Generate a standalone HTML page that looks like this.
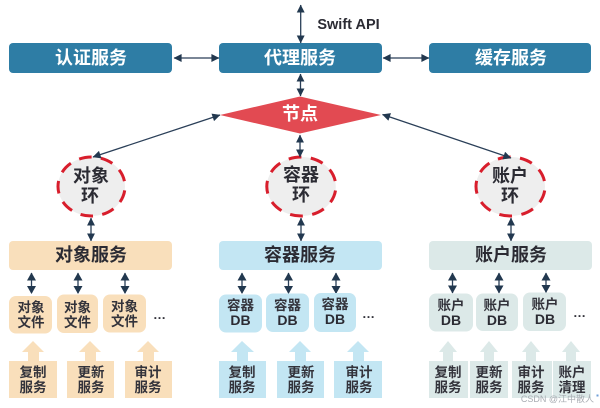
<!DOCTYPE html>
<html><head><meta charset="utf-8"><style>
html,body{margin:0;padding:0;background:#fff;width:600px;height:408px;overflow:hidden}
svg{display:block}
text{font-family:"Liberation Sans","Noto Sans CJK SC",sans-serif;text-anchor:middle}
.t{font-size:18px;font-weight:700;fill:#fff}
.d{font-size:18px;font-weight:700;fill:#2b2b33}
.s{font-size:13.5px;font-weight:700;fill:#33333b}
.b{font-size:14px;font-weight:700;fill:#2b2b33}
.l{stroke:#2a3f58;stroke-width:1.3;fill:none}
.h{fill:#22384f}
.e{font-size:13px;font-weight:700;fill:#33333b}
</style></head><body>
<svg width="600" height="408" viewBox="0 0 600 408" xmlns="http://www.w3.org/2000/svg">
<defs>
<marker id="a" viewBox="0 0 10 10" refX="9.500" refY="5" markerWidth="9" markerHeight="8" markerUnits="userSpaceOnUse" orient="auto-start-reverse"><path d="M0 0L10 5L0 10Z" fill="#22384f"/></marker>
<marker id="v" viewBox="0 0 10 10" refX="9.500" refY="5" markerWidth="8" markerHeight="9" markerUnits="userSpaceOnUse" orient="auto-start-reverse"><path d="M0 0L10 5L0 10Z" fill="#22384f"/></marker>
</defs>
<g style="filter:blur(.35px)">
<!-- top boxes -->
<rect x="9" y="43" width="163" height="30" rx="4" fill="#2e7da5"/>
<rect x="219" y="43" width="163" height="30" rx="4" fill="#2e7da5"/>
<rect x="429" y="43" width="162" height="30" rx="4" fill="#2e7da5"/>
<text class="t" x="91" y="64">认证服务</text>
<text class="t" x="300" y="64">代理服务</text>
<text class="t" x="511" y="64">缓存服务</text>
<text x="348.500" y="29" style="font-size:14.500px;font-weight:700;fill:#2b2b33">Swift API</text>
<!-- node -->
<polygon points="220,115 300,96.500 381,115 300,133.500" fill="#e24a52"/>
<text class="t" x="300" y="120">节点</text>
<!-- rings -->
<g fill="#eeeeee" stroke="#d81e2c" stroke-width="3" stroke-dasharray="6.400 4.710" stroke-dashoffset="-2">
<ellipse cx="91.500" cy="186.500" rx="33.500" ry="29.500" pathLength="100"/>
<ellipse cx="301.300" cy="186.500" rx="34.500" ry="29.500" pathLength="100"/>
<ellipse cx="510.500" cy="186.500" rx="34.500" ry="29.500" pathLength="100"/>
</g>
<text class="d" x="91" y="182">对象</text><text class="d" x="90" y="202">环</text>
<text class="d" x="301" y="181">容器</text><text class="d" x="301" y="201">环</text>
<text class="d" x="510" y="182">账户</text><text class="d" x="510" y="202">环</text>
<!-- connectors -->
<path class="l" d="M300.700 5V43" marker-start="url(#v)" marker-end="url(#v)"/>
<path class="l" d="M300.500 74V96" marker-start="url(#v)" marker-end="url(#v)"/>
<path class="l" d="M174 58H219" marker-start="url(#a)" marker-end="url(#a)"/>
<path class="l" d="M383 58H429" marker-start="url(#a)" marker-end="url(#a)"/>
<path class="l" d="M220 115L93 157" marker-end="url(#a)" marker-start="url(#a)"/>
<path class="l" d="M382.500 114.500L511 158" marker-start="url(#a)" marker-end="url(#a)"/>
<path class="l" d="M300 135V157" marker-start="url(#v)" marker-end="url(#v)"/>
<path class="l" d="M91 218V241" marker-start="url(#v)" marker-end="url(#v)"/>
<path class="l" d="M301 218V241" marker-start="url(#v)" marker-end="url(#v)"/>
<path class="l" d="M511 218V241" marker-start="url(#v)" marker-end="url(#v)"/>
<path class="l" d="M31.500 273V293M78 273V293M125 273V293M242 273V293M288.500 273V293M336 273V293M452.500 273V293M499 273V293M546 273V293"/>
<g class="h">
<path d="M31.500 272.500l-4.500 8h9zM78 272.500l-4.500 8h9zM125 272.500l-4.500 8h9zM242 272.500l-4.500 8h9zM288.500 272.500l-4.500 8h9zM336 272.500l-4.500 8h9zM452.500 272.500l-4.500 8h9zM499 272.500l-4.500 8h9zM546 272.500l-4.500 8h9z"/>
<path d="M31.500 294l-4.500 -8h9zM78 294l-4.500 -8h9zM125 294l-4.500 -8h9zM242 294l-4.500 -8h9zM288.500 294l-4.500 -8h9zM336 294l-4.500 -8h9zM452.500 293.500l-4.500 -8h9zM499 293.500l-4.500 -8h9zM546 293l-4.500 -8h9z"/>
</g>
<!-- services -->
<rect x="9" y="241" width="163" height="29" rx="4" fill="#f9dfbb"/>
<rect x="219" y="241" width="163" height="29" rx="4" fill="#c3e6f3"/>
<rect x="429" y="241" width="163" height="29" rx="4" fill="#dce9e8"/>
<text class="d" x="91" y="261">对象服务</text>
<text class="d" x="300" y="261">容器服务</text>
<text class="d" x="511" y="261">账户服务</text>
<!-- small boxes: object -->
<g fill="#f9dfbb">
<rect x="9" y="296" width="43" height="37.500" rx="7"/>
<rect x="57" y="294.500" width="41" height="38.500" rx="7"/>
<rect x="103" y="294.500" width="43" height="38" rx="7"/>
<path d="M33 341L44 352H39V361H57V398H9V361H28V352H22Z"/>
<path d="M90 341L101 352H96V361H114V398H67V361H85V352H79Z"/>
<path d="M148 341L159 352H154V361H172V398H125V361H143V352H137Z"/>
</g>
<text class="s" x="31" y="312">对象</text><text class="s" x="31" y="327">文件</text>
<text class="s" x="77.500" y="312">对象</text><text class="s" x="77.500" y="327">文件</text>
<text class="s" x="124.500" y="311">对象</text><text class="s" x="124.500" y="326">文件</text>
<text class="s" x="33" y="377">复制</text><text class="s" x="33" y="392">服务</text>
<text class="s" x="91" y="377">更新</text><text class="s" x="91" y="392">服务</text>
<text class="s" x="148" y="377">审计</text><text class="s" x="148" y="392">服务</text>
<text class="e" x="159.500" y="319">…</text>
<!-- container -->
<g fill="#c3e6f3">
<rect x="219" y="294.500" width="43" height="38" rx="7"/>
<rect x="266" y="293.500" width="43" height="38.500" rx="7"/>
<rect x="314" y="293" width="42" height="39" rx="7"/>
<path d="M242 341L254 352H248V361H266V398H219V361H237V352H231Z"/>
<path d="M300 341L311 352H306V361H324V398H277V361H295V352H289Z"/>
<path d="M358 341L369 352H364V361H382V398H334V361H353V352H347Z"/>
</g>
<text class="s" x="240.500" y="310">容器</text><text class="b" x="240.500" y="325">DB</text>
<text class="s" x="287.500" y="310">容器</text><text class="b" x="287.500" y="325">DB</text>
<text class="s" x="335" y="309">容器</text><text class="b" x="335" y="324">DB</text>
<text class="s" x="242" y="377">复制</text><text class="s" x="242" y="392">服务</text>
<text class="s" x="301" y="377">更新</text><text class="s" x="301" y="392">服务</text>
<text class="s" x="359" y="377">审计</text><text class="s" x="359" y="392">服务</text>
<text class="e" x="368.500" y="318">…</text>
<!-- account -->
<g fill="#dce9e8">
<rect x="429" y="293.500" width="44" height="38" rx="7"/>
<rect x="476" y="293.500" width="42" height="37.500" rx="7"/>
<rect x="523" y="292.500" width="43" height="38.500" rx="7"/>
<path d="M448 341L457 352H453V361H468V398H429V361H443V352H439Z"/>
<path d="M489 341L498 352H494V361H508V398H470V361H484V352H480Z"/>
<path d="M531 341L540 352H536V361H552V398H512V361H526V352H522Z"/>
<path d="M571 341L580 352H576V361H591V398H553V361H566V352H562Z"/>
</g>
<text class="s" x="451" y="310">账户</text><text class="b" x="451" y="325">DB</text>
<text class="s" x="497" y="310">账户</text><text class="b" x="497" y="325">DB</text>
<text class="s" x="545" y="309">账户</text><text class="b" x="545" y="324">DB</text>
<text class="s" x="448" y="377">复制</text><text class="s" x="448" y="392">服务</text>
<text class="s" x="489" y="377">更新</text><text class="s" x="489" y="392">服务</text>
<text class="s" x="531" y="377">审计</text><text class="s" x="531" y="392">服务</text>
<text class="s" x="572" y="377">账户</text><text class="s" x="572" y="392">清理</text>
<text class="e" x="579.500" y="317">…</text>
<!-- watermark -->
<text x="557.500" y="402" style="font-size:9px;fill:#a9adb3">CSDN @江中散人</text>
<rect x="596.500" y="394.500" width="2" height="2" fill="#6f9fd8"/>
</g>
</svg>
</body></html>
